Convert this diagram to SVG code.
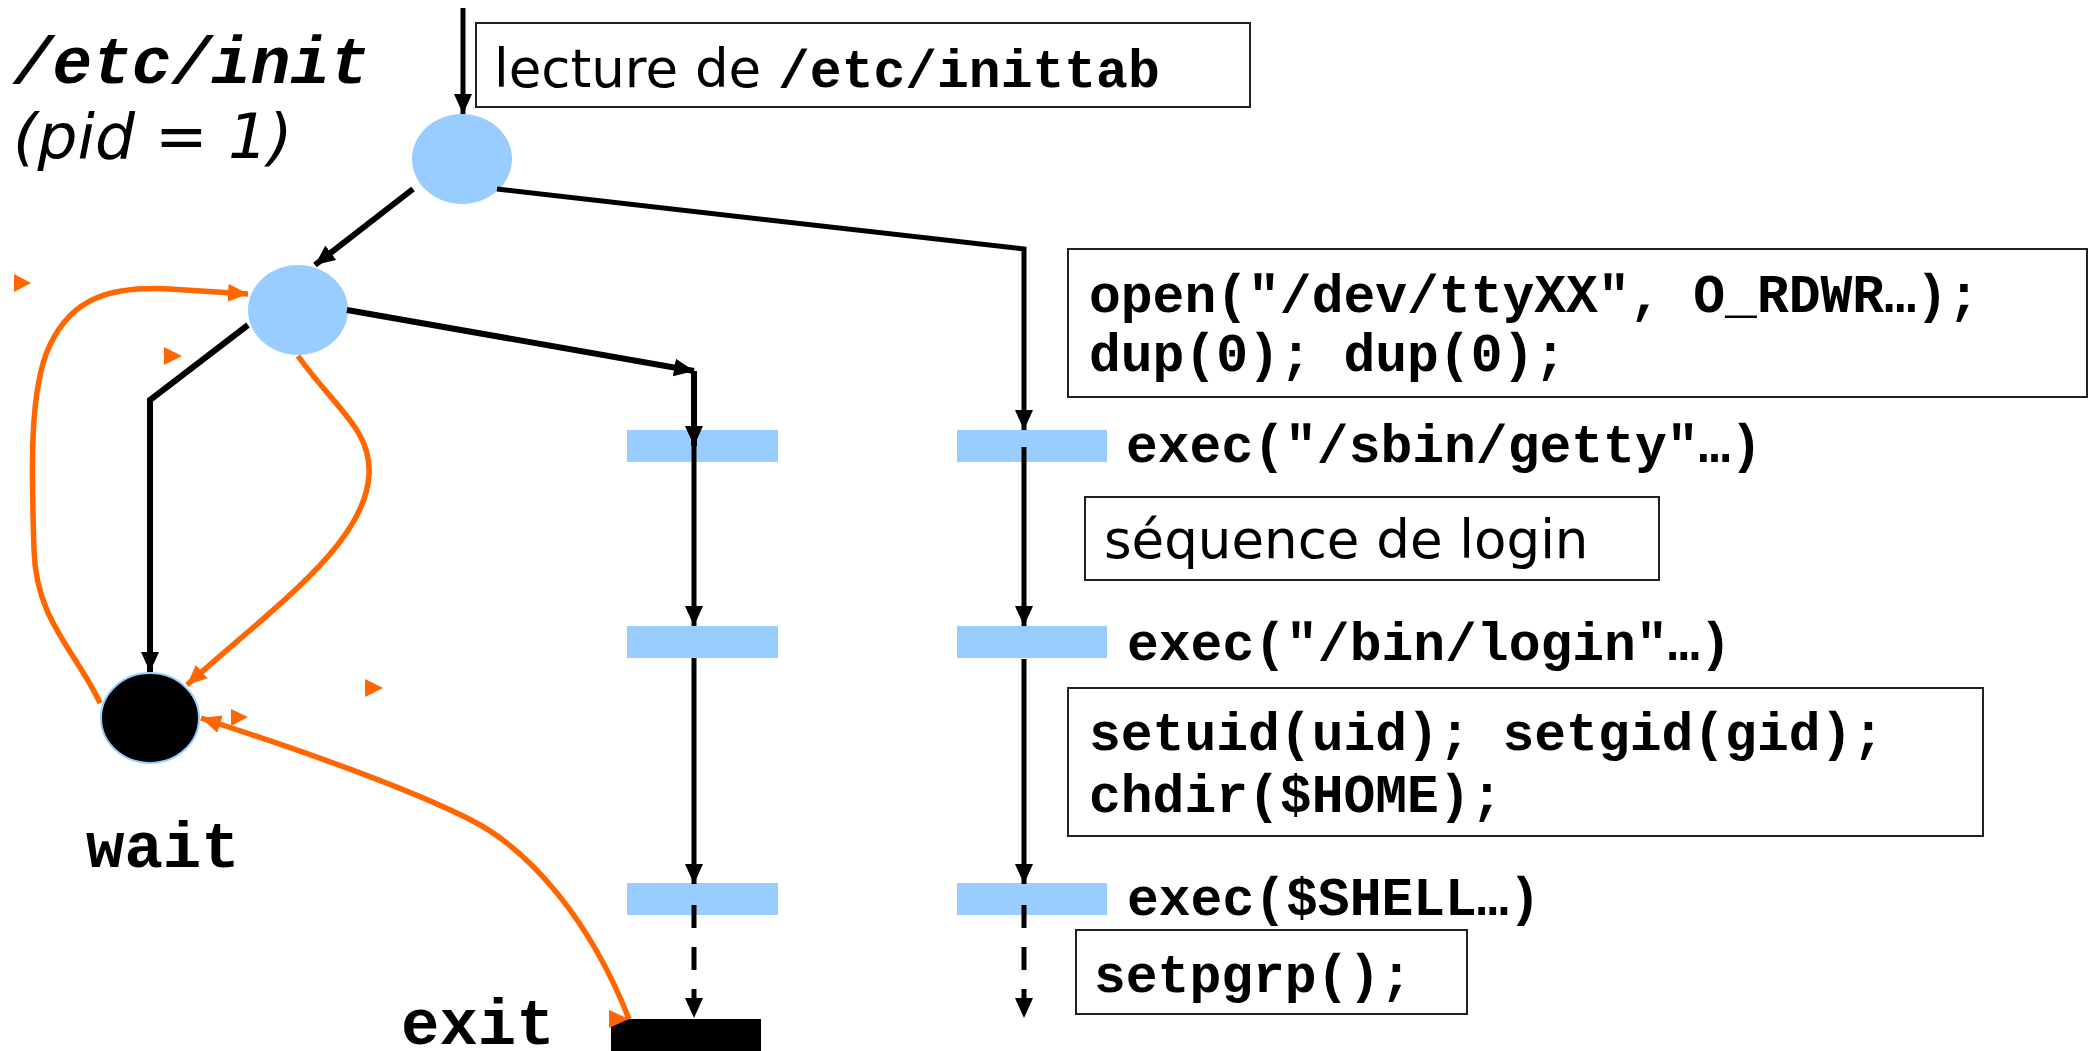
<svg xmlns="http://www.w3.org/2000/svg" width="2094" height="1051" viewBox="0 0 2094 1051">
  <style>
    .sans { font-family: "DejaVu Sans", "Liberation Sans", sans-serif; font-size: 53px; fill: #000; }
    .mono { font-family: "Liberation Mono", "Courier New", monospace; font-weight: bold; font-size: 53px; fill: #000; }
    .big-mono { font-family: "Liberation Mono", "Courier New", monospace; font-weight: bold; font-size: 64px; fill: #000; }
    .title-mono { font-family: "Liberation Mono", "Courier New", monospace; font-weight: bold; font-style: italic; font-size: 66px; fill: #000; }
    .title-sans { font-family: "DejaVu Sans", "Liberation Sans", sans-serif; font-style: italic; font-size: 63px; fill: #000; }
    .box { fill: #fff; stroke: #222; stroke-width: 2; }
    .proc { fill: #99CCFF; }
    .bar { fill: #99CCFF; }
    .flow { fill: none; stroke: #000; stroke-width: 6; }
    .flow-thin { fill: none; stroke: #000; stroke-width: 5; }
    .dashed { stroke-dasharray: 23 19; }
    .signal { fill: none; stroke: #FF6600; stroke-width: 5.5; }
    .tri { fill: #FF6600; }
  </style>
  <defs>
    <marker id="arrow" markerUnits="userSpaceOnUse" markerWidth="20" markerHeight="18" refX="20" refY="9" orient="auto">
      <path d="M0,0 L20,9 L0,18 z" fill="#000"/>
    </marker>
    <marker id="arrow-o" markerUnits="userSpaceOnUse" markerWidth="20" markerHeight="18" refX="20" refY="9" orient="auto">
      <path d="M0,0 L20,9 L0,18 z" fill="#FF6600"/>
    </marker>
    <marker id="arrow-o-right" markerUnits="userSpaceOnUse" markerWidth="20" markerHeight="18" refX="20" refY="9" orient="0">
      <path d="M0,0 L20,9 L0,18 z" fill="#FF6600"/>
    </marker>
  </defs>

  <rect width="2094" height="1051" fill="#fff"/>

  <!-- title -->
  <g id="title">
    <text x="13" y="83" class="title-mono">/etc/init</text>
    <text x="13" y="158" class="title-sans">(pid = 1)</text>
  </g>

  <!-- annotation boxes -->
  <g id="note-inittab">
    <rect x="476" y="23" width="774" height="84" class="box"/>
    <text x="494" y="87" class="sans">lecture de <tspan class="mono">/etc/inittab</tspan></text>
  </g>
  <g id="note-open">
    <rect x="1068" y="249" width="1019" height="148" class="box"/>
    <text x="1089" y="312" class="mono">open("/dev/ttyXX", O_RDWR…);</text>
    <text x="1089" y="371" class="mono">dup(0); dup(0);</text>
  </g>
  <g id="note-login">
    <rect x="1085" y="497" width="574" height="83" class="box"/>
    <text x="1104" y="558" class="sans">séquence de login</text>
  </g>
  <g id="note-setuid">
    <rect x="1068" y="688" width="915" height="148" class="box"/>
    <text x="1089" y="750" class="mono">setuid(uid); setgid(gid);</text>
    <text x="1089" y="812" class="mono">chdir($HOME);</text>
  </g>
  <g id="note-setpgrp">
    <rect x="1076" y="930" width="391" height="84" class="box"/>
    <text x="1094" y="992" class="mono">setpgrp();</text>
  </g>

  <!-- process nodes -->
  <g id="init-proc"><ellipse cx="462" cy="159" rx="50" ry="45" class="proc"/></g>
  <g id="fork-proc"><ellipse cx="298" cy="310" rx="50" ry="45" class="proc"/></g>
  <g id="wait-node">
    <ellipse cx="150" cy="718" rx="49" ry="45" fill="#000" stroke="#99CCFF" stroke-width="2"/>
    <text x="86" y="867" class="big-mono">wait</text>
  </g>
  <g id="exit-node">
    <rect x="611" y="1019" width="150" height="40" fill="#000"/>
    <text x="401" y="1044" class="big-mono">exit</text>
  </g>

  <!-- exec steps, child column -->
  <g id="child-exec1"><rect x="627" y="430" width="151" height="32" class="bar"/></g>
  <g id="child-exec2"><rect x="627" y="626" width="151" height="32" class="bar"/></g>
  <g id="child-exec3"><rect x="627" y="883" width="151" height="32" class="bar"/></g>

  <!-- exec steps, getty column -->
  <g id="getty-exec">
    <rect x="957" y="430" width="150" height="32" class="bar"/>
    <text x="1126" y="462" class="mono">exec("/sbin/getty"…)</text>
  </g>
  <g id="login-exec">
    <rect x="957" y="626" width="150" height="32" class="bar"/>
    <text x="1127" y="660" class="mono">exec("/bin/login"…)</text>
  </g>
  <g id="shell-exec">
    <rect x="957" y="883" width="150" height="32" class="bar"/>
    <text x="1127" y="915" class="mono">exec($SHELL…)</text>
  </g>

  <!-- connectors -->
  <g id="connectors">
    <path d="M463,8 L463,114" class="flow-thin" marker-end="url(#arrow)"/>
    <path d="M413,189 L315,265" class="flow" marker-end="url(#arrow)"/>
    <path d="M497,189 L1024,249 L1024,430" class="flow-thin" marker-end="url(#arrow)"/>
    <path d="M347,310 L694,371" class="flow" marker-end="url(#arrow)"/>
    <path d="M694,371 L694,446" class="flow" marker-end="url(#arrow)"/>
    <path d="M248,325 L150,400 L150,672" class="flow" marker-end="url(#arrow)"/>

    <path d="M694,446 L694,626" class="flow-thin" marker-end="url(#arrow)"/>
    <path d="M694,658 L694,884" class="flow-thin" marker-end="url(#arrow)"/>
    <path d="M694,905 L694,1018" class="flow-thin dashed" marker-end="url(#arrow)"/>

    <path d="M1024,447 L1024,626" class="flow-thin" marker-end="url(#arrow)"/>
    <path d="M1024,659 L1024,884" class="flow-thin" marker-end="url(#arrow)"/>
    <path d="M1024,905 L1024,1018" class="flow-thin dashed" marker-end="url(#arrow)"/>

    <path d="M100,703 C75,650 36,620 34,550 C32,480 28,390 50,345 C72,298 110,286 170,289 L248,294" class="signal" marker-end="url(#arrow-o)"/>
    <path d="M298,356 C335,408 372,430 369,475 C365,545 270,610 187,685" class="signal" marker-end="url(#arrow-o)"/>
    <path d="M629,1019 C590,920 530,850 471,820 C412,790 300,750 201,718" class="signal" marker-start="url(#arrow-o-right)" marker-end="url(#arrow-o)"/>

    <polygon points="14,274 31,283 14,292" class="tri"/>
    <polygon points="164,347 182,356 164,365" class="tri"/>
    <polygon points="365,679 383,688 365,697" class="tri"/>
    <polygon points="231,709 248,717 231,726" class="tri"/>
  </g>
</svg>
